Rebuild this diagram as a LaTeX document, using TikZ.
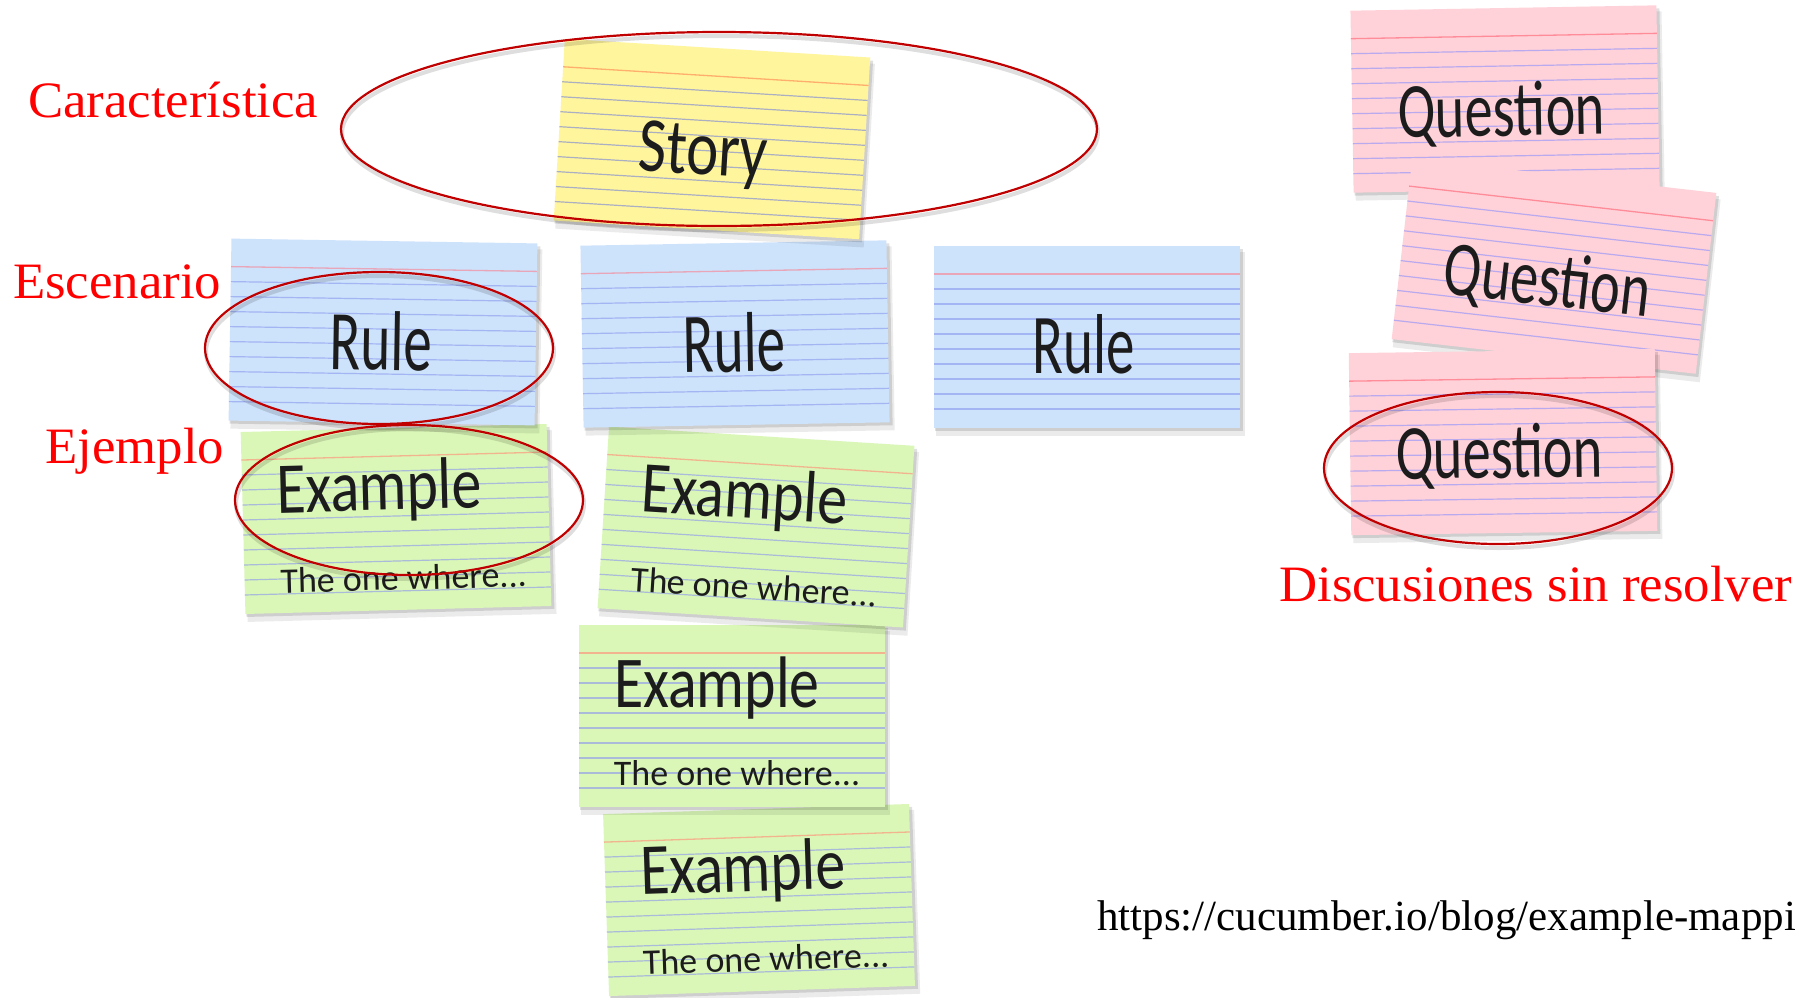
\documentclass[tikz,border=0pt]{standalone}
\usepackage{fontspec}
\setmainfont{Liberation Serif}
\newfontfamily\handstory[FakeStretch=0.78]{Carlito}
\newfontfamily\handrule[FakeStretch=0.67]{Carlito}
\newfontfamily\handex[FakeStretch=0.82]{Carlito}
\newfontfamily\handq[FakeStretch=0.72]{Carlito}
\newfontfamily\handsmall{Carlito}
\newfontfamily\labelfont[FakeStretch=1.035]{Liberation Serif}
\newfontfamily\urlfont{Liberation Serif}

\definecolor{yelfill}{HTML}{FFF59D}
\definecolor{yeltop}{HTML}{FFAE6E}
\definecolor{yelline}{HTML}{ABAFC2}
\definecolor{blufill}{HTML}{CDE2FB}
\definecolor{blutop}{HTML}{E8A6B8}
\definecolor{bluline}{HTML}{A3B5F3}
\definecolor{grnfill}{HTML}{DAF7B7}
\definecolor{grntop}{HTML}{F2B48E}
\definecolor{grnline}{HTML}{A9BBD9}
\definecolor{pnkfill}{HTML}{FFD2D9}
\definecolor{pnktop}{HTML}{FF8C98}
\definecolor{pnkline}{HTML}{B9A9EE}
\definecolor{inkdark}{HTML}{1C1C1C}
\definecolor{labred}{HTML}{FF0000}
\definecolor{ringred}{HTML}{C00000}

\newcommand{\idxcard}[5]{%
  \begin{scope}[shift={(#1,#2)}, rotate=#3]
    \fill[black, opacity=0.08] (-151,-85) rectangle (158,99);
    \fill[black, opacity=0.12] (-152,-88) rectangle (156,94);
    \fill[#4fill] (-153,-91) rectangle (153,91);
    \draw[#4top, line width=1.3pt] (-153,-63) -- (153,-63);
    \foreach \k in {1,...,9}{\draw[#4line, line width=1.2pt] (-153,-63+15*\k) -- (153,-63+15*\k);}
    #5
  \end{scope}}

\tikzset{
  hand/.style={anchor=base, inner sep=0pt, text=inkdark, transform shape},
  storytext/.style={hand, font=\handstory\fontsize{78}{80}\selectfont},
  ruletext/.style={hand, font=\handrule\fontsize{85}{88}\selectfont},
  extext/.style={hand, font=\handex\fontsize{73}{76}\selectfont},
  onewhere/.style={hand, font=\handsmall\fontsize{36}{40}\selectfont},
  qtext/.style={hand, font=\handq\fontsize{78}{80}\selectfont},
  lab/.style={anchor=base west, inner sep=0pt, text=labred, font=\labelfont\fontsize{51}{56}\selectfont},
  url/.style={anchor=base west, inner sep=0pt, text=black, font=\urlfont\fontsize{43}{48}\selectfont},
  ring/.style={draw=ringred, line width=2.2pt},
  ringshadow/.style={draw=black, opacity=0.13, line width=4pt},
}

\begin{document}
\begin{tikzpicture}[x=1pt, y=-1pt]
  \useasboundingbox (0,0) rectangle (1795,997);
  \clip (0,0) rectangle (1795,997);
  \fill[white] (0,0) rectangle (1795,997);

  % example cards (bottom of stack first)
  \idxcard{759}{900}{1.9}{grn}{
    \node[extext] (ex4a) at (-15,-9) {Example};
    \node[onewhere] (ex4b) at (5,71) {The one where...};}
  \idxcard{732}{716}{0}{grn}{
    \node[extext] (ex3a) at (-15,-9) {Example};
    \node[onewhere] (ex3b) at (5,69) {The one where...};}
  \idxcard{756}{527}{-3.6}{grn}{
    \node[extext] (ex2a) at (-13,-8) {Example};
    \node[onewhere] (ex2b) at (2,72) {The one where...};}
  \idxcard{396}{519}{1.5}{grn}{
    \node[extext] (ex1a) at (-16,-9) {Example};
    \node[onewhere] (ex1b) at (6,71) {The one where...};}

  % rule cards
  \idxcard{383}{332}{-0.9}{blu}{
    \node[ruletext] (rule1) at (-2,38) {Rule};}
  \idxcard{735}{334}{1.0}{blu}{
    \node[ruletext] (rule2) at (-1,38) {Rule};}
  \idxcard{1087}{337}{0}{blu}{
    \node[ruletext] (rule3) at (-3,36) {Rule};}

  % story card
  \idxcard{712}{139}{-3.5}{yel}{
    \node[storytext] (story) at (-8,36) {Story};}

  % question cards
  \idxcard{1505}{99}{1.0}{pnk}{
    \node[qtext] (q1) at (-4,37) {Question};}
  \idxcard{1554}{266}{-6.5}{pnk}{
    \node[qtext] (q2) at (-5,40) {Question};}
  \idxcard{1503}{442}{0.8}{pnk}{
    \node[qtext] (q3) at (-4,36) {Question};}

  % red ellipses
  \draw[ringshadow] (720,133) ellipse [x radius=378, y radius=97];
  \draw[ring] (719,129) ellipse [x radius=378, y radius=97];
  \draw[ringshadow] (380,352) ellipse [x radius=174, y radius=76];
  \draw[ring] (379,348) ellipse [x radius=174, y radius=76];
  \draw[ringshadow] (410,504) ellipse [x radius=174, y radius=75];
  \draw[ring] (409,500) ellipse [x radius=174, y radius=75];
  \draw[ringshadow] (1499,472) ellipse [x radius=174, y radius=76];
  \draw[ring] (1498,468) ellipse [x radius=174, y radius=76];

  % labels
  \node[lab] (lfeat) at (28,117) {Característica};
  \node[lab] (lscen) at (13,298) {Escenario};
  \node[lab] (lex) at (45,463) {Ejemplo};
  \node[lab] (lq) at (1279,601) {Discusiones sin resolver};
  \node[url] (lurl) at (1097,930) {https://cucumber.io/blog/example-mappi};
\end{tikzpicture}
\end{document}
